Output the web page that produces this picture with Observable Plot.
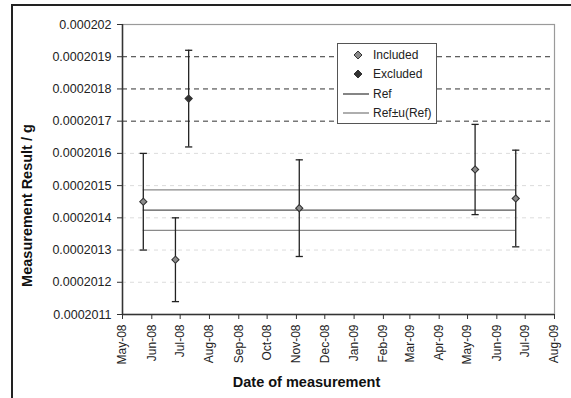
<!DOCTYPE html>
<html>
<head>
<meta charset="utf-8">
<script src="https://cdn.jsdelivr.net/npm/d3@7"></script>
<script src="https://cdn.jsdelivr.net/npm/@observablehq/plot@0.6"></script>
<style>
  html, body { margin: 0; padding: 0; background: #fff; }
  #wrap { position: relative; width: 571px; height: 398px; overflow: hidden; font-family: "Liberation Sans", Arial, sans-serif; }
  #outer { position: absolute; left: 11px; top: 4px; width: 640px; height: 460px; border: 2px solid #222; box-sizing: border-box; }
  #chart { position: absolute; left: 0; top: 0; }
  #legend { position: absolute; left: 337px; top: 43px; width: 100px; height: 81px; border: 1px solid #555; background: #fff; box-sizing: border-box; font-size: 12px; color: #222; }
  #legend .row { position: absolute; left: 0; height: 16px; width: 100%; }
  #legend .row span { position: absolute; left: 35px; top: 0; line-height: 16px; white-space: nowrap; }
  #legend svg { position: absolute; left: 0; top: 0; }
</style>
</head>
<body>
<div id="wrap">
  <div id="outer"></div>
  <div id="chart"></div>
  <div id="legend"></div>
</div>
<script>
// ---- data ----
const dates = ["2008-05-23", "2008-06-26", "2008-07-10", "2008-11-04", "2009-05-09", "2009-06-21"];
const values = [0.00020145, 0.00020127, 0.00020177, 0.00020143, 0.00020155, 0.00020146];
const uncert = [0.00000015, 0.00000013, 0.00000015, 0.00000015, 0.00000014, 0.00000015];
const status = ["Included", "Included", "Excluded", "Included", "Included", "Included"];
const refValue = 0.000201424;
const refU = 0.000000063;
const yTicks = [0.0002011, 0.0002012, 0.0002013, 0.0002014, 0.0002015, 0.0002016, 0.0002017, 0.0002018, 0.0002019, 0.000202];
const xStart = "2008-05-01";
const xEnd = "2009-08-01";
const legendLabels = ["Included", "Excluded", "Ref", "Ref\u00b1u(Ref)"];
const xTitle = "Date of measurement";
const yTitle = "Measurement Result / g";

// ---- build ----
const parse = d3.utcParse("%Y-%m-%d");
const pts = dates.map((d, i) => ({date: parse(d), v: values[i], u: uncert[i], status: status[i]}));
const firstDate = pts[0].date, lastDate = pts[pts.length - 1].date;
const refLines = [
  {y: refValue + refU, kind: "u"},
  {y: refValue - refU, kind: "u"},
  {y: refValue, kind: "ref"}
].map(d => ({...d, x1: firstDate, x2: lastDate}));
const xTicks = d3.utcMonth.range(parse(xStart), d3.utcDay.offset(parse(xEnd), 1));
const gridDark = yTicks.filter(t => t > 0.00020165 && t < 0.00020199);
const gridLight = yTicks.filter(t => t > 0.00020111 && t < 0.00020165);
const caps = pts.flatMap(p => [{date: p.date, y: p.v - p.u}, {date: p.date, y: p.v + p.u}]);
const capSymbol = {draw(ctx, size) { const r = Math.sqrt(size / Math.PI); ctx.moveTo(-r, 0); ctx.lineTo(r, 0); }};
const fmtY = d => d.toFixed(7).replace(/0+$/, "");

const chart = Plot.plot({
  width: 571, height: 398,
  marginLeft: 122, marginRight: 17, marginTop: 24, marginBottom: 84,
  x: {type: "utc", domain: [parse(xStart), parse(xEnd)]},
  y: {domain: [yTicks[0], yTicks[yTicks.length - 1]]},
  style: {fontFamily: "'Liberation Sans', Arial, sans-serif", background: "transparent", color: "#222"},
  marks: [
    Plot.frame({stroke: "#9a9a9a", strokeWidth: 1.2}),
    Plot.ruleY(gridLight, {stroke: "#dcdcdc", strokeDasharray: "4,4"}),
    Plot.ruleY(gridDark, {stroke: "#333", strokeDasharray: "5,4"}),
    Plot.ruleY(refLines, {y: "y", x1: "x1", x2: "x2", stroke: d => d.kind === "ref" ? "#555" : "#8a8a8a", strokeWidth: 1.3}),
    Plot.ruleX(pts, {x: "date", y1: d => d.v - d.u, y2: d => d.v + d.u, stroke: "#222", strokeWidth: 1.3}),
    Plot.dot(caps, {x: "date", y: "y", symbol: capSymbol, r: 3.6, stroke: "#222", strokeWidth: 1.3, fill: "none"}),
    Plot.dot(pts, {x: "date", y: "v", symbol: "diamond2", r: 3.2, stroke: "#333", strokeWidth: 1.1,
      fill: d => d.status === "Included" ? "#8c8c8c" : "#333"}),
    Plot.ruleX([parse(xStart)], {stroke: "#333", strokeWidth: 1.5}),
    Plot.ruleY([yTicks[0]], {stroke: "#333", strokeWidth: 1.5}),
    Plot.axisY(yTicks, {tickSize: 5, tickPadding: 6, tickFormat: fmtY, label: null, fontSize: 12.5, stroke: "#333"}),
    Plot.axisX(xTicks, {tickSize: 5, tickPadding: 5, tickRotate: -90, tickFormat: d3.utcFormat("%b-%y"), label: null, fontSize: 12, stroke: "#333"}),
    Plot.text([xTitle], {frameAnchor: "bottom", dy: 72, dx: -32, fontWeight: "bold", fontSize: 14.5, fill: "#111"}),
    Plot.text([yTitle], {frameAnchor: "left", textAnchor: "middle", dx: -95, dy: 36, rotate: -90, fontWeight: "bold", fontSize: 14.5, fill: "#111"})
  ]
});
document.getElementById("chart").appendChild(chart);

// ---- legend ----
const legend = document.getElementById("legend");
const rowsY = [3, 22, 42, 61];
legendLabels.forEach((lab, i) => {
  const row = document.createElement("div");
  row.className = "row";
  row.style.top = rowsY[i] + "px";
  let sym = "";
  if (i === 0) sym = `<path d="M20,4 L24,8 L20,12 L16,8 Z" fill="#8c8c8c" stroke="#333" stroke-width="1"/>`;
  if (i === 1) sym = `<path d="M20,4 L24,8 L20,12 L16,8 Z" fill="#333" stroke="#333" stroke-width="1"/>`;
  if (i === 2) sym = `<line x1="5" x2="31" y1="8" y2="8" stroke="#333" stroke-width="1.2"/>`;
  if (i === 3) sym = `<line x1="5" x2="31" y1="8" y2="8" stroke="#777" stroke-width="1.2"/>`;
  row.innerHTML = `<svg width="40" height="16">${sym}</svg><span>${lab}</span>`;
  legend.appendChild(row);
});
</script>
</body>
</html>
